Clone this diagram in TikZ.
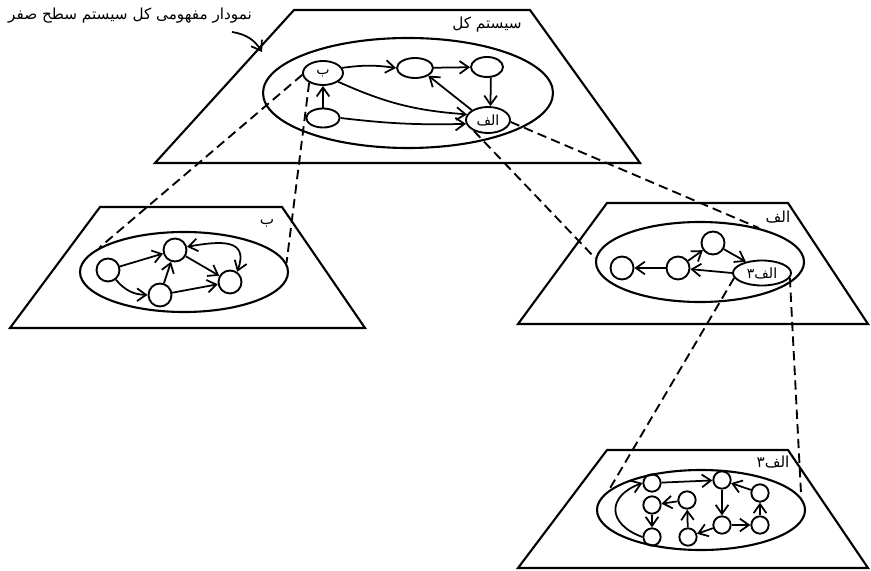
\documentclass[tikz,border=0pt]{standalone}
\usepackage{fontspec}
\newfontfamily\fa[Script=Arabic]{DejaVu Sans}
\TeXXeTstate=1
\newcommand{\rtl}[1]{{\fa\beginR #1\endR}}
\usetikzlibrary{arrows.meta,shapes.geometric}
\tikzset{
  plane/.style={draw,line width=1.8pt,line join=miter},
  zone/.style={draw,ellipse,line width=1.8pt,inner sep=0pt,minimum width=6.24cm,minimum height=2.4cm},
  proc/.style={draw,ellipse,line width=1.6pt,inner sep=0pt,font=\fa\fontsize{12}{14}\selectfont},
  dot/.style={draw,circle,line width=1.6pt,inner sep=0pt,minimum size=0.69cm},
  sdot/.style={dot,minimum size=0.52cm},
  lbl/.style={font=\fa\fontsize{13}{15}\selectfont,inner sep=1pt},
  arr/.style={-{Straight Barb[length=2.7mm,width=3.8mm]},line width=1.5pt},
  darr/.style={{Straight Barb[length=2.7mm,width=3.8mm]}-{Straight Barb[length=2.7mm,width=3.8mm]},line width=1.5pt},
  link/.style={line width=1.6pt,dash pattern=on 8pt off 4.5pt},
}
\begin{document}
\begin{tikzpicture}[x=0.03cm,y=-0.03cm]
\useasboundingbox (0,0) rectangle (871,571);

% level 0 plane
\draw[plane] (294,10) -- (530,10) -- (640,163) -- (155,163) -- cycle;
\node[zone,minimum width=8.7cm,minimum height=3.3cm] (tz) at (408,93) {};
\node[lbl] (sysall) at (487,25) {\rtl{سیستم کل}};
\node[lbl] (cap) at (130,16) {\rtl{نمودار مفهومی کل سیستم سطح صفر}};
\coordinate (capfrom) at (232,32);
\coordinate (capto) at (262,52);
\draw[arr] (capfrom) to[bend left=25] (capto);

\node[proc,minimum width=1.2cm,minimum height=0.72cm] (tB) at (323,73) {ب};
\node[proc,minimum width=1.08cm,minimum height=0.6cm] (tM) at (415,68) {};
\node[proc,minimum width=0.96cm,minimum height=0.6cm] (tR) at (487,67) {};
\node[proc,minimum width=1cm,minimum height=0.57cm] (tL) at (323,118) {};
\node[proc,minimum width=1.32cm,minimum height=0.78cm] (tA) at (488,120) {\rtl{الف}};
\draw[arr] (tB.15) to[bend left=8] (tM.west);
\draw[arr] (tM) -- (tR);
\draw[arr] (tR.-70) -- (tA.80);
\draw[arr] (tA.north west) -- (tM.south east);
\draw[arr] (tB.-30) to[bend right=10] (tA.165);
\draw[arr] (tL) -- (tB);
\draw[arr] (tL.east) to[bend right=4] (tA.190);

% plane of process b
\draw[plane] (100,207) -- (282,207) -- (365,328) -- (10,328) -- cycle;
\node[zone] (lz) at (184,272) {};
\node[lbl] (labB) at (267,223) {ب};
\node[dot] (l1) at (108,270) {};
\node[dot] (l2) at (175,250) {};
\node[dot] (l3) at (160,295) {};
\node[dot] (l4) at (230,282) {};
\draw[arr] (l1) -- (l2);
\draw[arr] (l1) to[bend right=25] (l3);
\draw[arr] (l3) -- (l2);
\draw[arr] (l2) -- (l4);
\draw[arr] (l3) -- (l4);
\draw[darr] (l2.15) to[out=10,in=70,looseness=1.6] (l4.55);

% plane of process alef
\draw[plane] (607,203) -- (788,203) -- (868,324) -- (518,324) -- cycle;
\node[zone] (rz) at (700,262) {};
\node[lbl] (labA) at (778,217) {\rtl{الف}};
\node[dot] (r1) at (622,268) {};
\node[dot] (r2) at (678,268) {};
\node[dot] (r3) at (713,243) {};
\node[proc,minimum width=1.74cm,minimum height=0.75cm] (rA3) at (762,273) {\rtl{الف۳}};
\draw[arr] (r2) -- (r1);
\draw[arr] (r2) -- (r3);
\draw[arr] (r3) -- (rA3.145);
\draw[arr] (rA3.west) -- (r2);

% plane of process alef-3
\draw[plane] (607,450) -- (788,450) -- (868,568) -- (518,568) -- cycle;
\node[zone] (bz) at (701,510) {};
\node[lbl] (labA3) at (773,462) {\rtl{الف۳}};
\node[sdot] (b1) at (652,483) {};
\node[sdot] (b2) at (652,505) {};
\node[sdot] (b3) at (652,537) {};
\node[sdot] (b4) at (687,500) {};
\node[sdot] (b5) at (688,537) {};
\node[sdot] (b6) at (722,480) {};
\node[sdot] (b7) at (722,525) {};
\node[sdot] (b8) at (760,493) {};
\node[sdot] (b9) at (760,525) {};
\draw[arr] (b1) -- (b6);
\draw[arr] (b6) -- (b7);
\draw[arr] (b4) -- (b2);
\draw[arr] (b2) -- (b3);
\draw[arr] (b5) -- (b4);
\draw[arr] (b7) -- (b5);
\draw[arr] (b7) -- (b9);
\draw[arr] (b9) -- (b8);
\draw[arr] (b8) -- (b6);
\draw[arr] (b3.west) to[out=160,in=200,looseness=1.8] (b1.west);

% zoom lines between levels
\draw[link] (tB.185) -- (lz.164);
\draw[link] (tB.215) -- (lz.5);
\draw[link] (tA.218) -- (rz.178);
\draw[link] (tA.355) -- (rz.30);
\draw[link] (rA3.190) -- (bz.168);
\draw[link] (rA3.350) -- (bz.7);
\end{tikzpicture}
\end{document}
